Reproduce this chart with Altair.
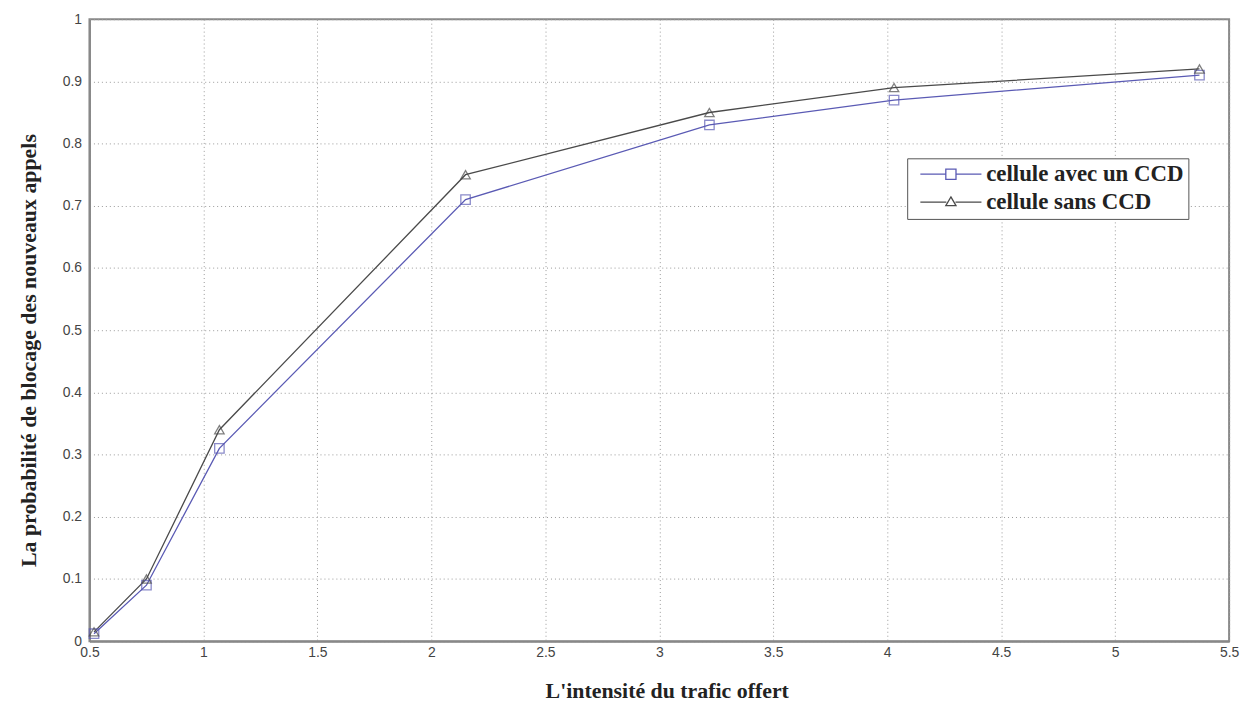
import altair as alt
import pandas as pd

x_vals = [0.52, 0.75, 1.07, 2.15, 3.22, 4.03, 5.37]
avec_ccd = [0.012, 0.09, 0.31, 0.71, 0.83, 0.87, 0.91]
sans_ccd = [0.015, 0.10, 0.34, 0.75, 0.85, 0.89, 0.92]
series_names = ["cellule avec un CCD", "cellule sans CCD"]

rows = []
for name, ys in zip(series_names, [avec_ccd, sans_ccd]):
    for xv, yv in zip(x_vals, ys):
        rows.append({"x": xv, "y": yv, "serie": name})
df = pd.DataFrame(rows)

color_range = ["#5a5ab4", "#4a4a4a"]
color_scale = alt.Scale(domain=series_names, range=color_range)
shape_scale = alt.Scale(domain=series_names, range=["square", "triangle-up"])
path_square = "M-3,0H-0.5M0.5,0H3M-0.5,-0.5H0.5V0.5H-0.5Z"
path_triangle = "M-3,0H-0.45M0.45,0H3M0,-0.5L0.5,0.35H-0.5Z"
legend_shape_scale = alt.Scale(domain=series_names, range=[path_square, path_triangle])

xenc = alt.X("x:Q", scale=alt.Scale(domain=[0.5, 5.5], nice=False),
             axis=alt.Axis(values=[0.5, 1, 1.5, 2, 2.5, 3, 3.5, 4, 4.5, 5, 5.5],
                           labelExpr="format(datum.value, '~g')", labelFlush=False,
                           title="L'intensité du trafic offert", titlePadding=22,
                           titleX=581, labelPadding=4))
yenc = alt.Y("y:Q", scale=alt.Scale(domain=[0, 1], nice=False),
             axis=alt.Axis(values=[0, 0.1, 0.2, 0.3, 0.4, 0.5, 0.6, 0.7, 0.8, 0.9, 1],
                           labelExpr="format(datum.value, '~g')", labelFlush=False,
                           title="La probabilité de blocage des nouveaux appels",
                           titlePadding=22, titleY=333, labelPadding=8))

legend = alt.Legend(title=None, orient="none", legendX=823, legendY=140,
                    fillColor="white", strokeColor="#555",
                    padding=4.5, labelFont="Liberation Serif",
                    labelFontSize=23, labelFontWeight="bold",
                    labelColor="#222", symbolSize=420, symbolOpacity=1,
                    symbolStrokeWidth=1.3, symbolOffset=28, labelOffset=24,
                    rowPadding=4, labelLimit=400)

lines = alt.Chart(df).mark_line(strokeWidth=1.3).encode(
    x=xenc, y=yenc,
    color=alt.Color("serie:N", scale=color_scale, sort=series_names, legend=None),
)
points = alt.Chart(df).mark_point(filled=False, size=90, strokeWidth=1.3).encode(
    x=xenc, y=yenc,
    color=alt.Color("serie:N", scale=color_scale, sort=series_names, legend=None),
    shape=alt.Shape("serie:N", scale=shape_scale, sort=series_names, legend=None),
)
legend_layer = alt.Chart(df).mark_point(filled=False, opacity=0).encode(
    x=xenc, y=yenc,
    color=alt.Color("serie:N", scale=color_scale, sort=series_names, legend=legend),
    shape=alt.Shape("serie:N", scale=legend_shape_scale, sort=series_names, legend=legend),
)

chart = alt.layer(lines, points, legend_layer).resolve_scale(
    shape="independent", color="independent"
).properties(
    width=1147, height=626,
    autosize=alt.AutoSizeParams(type="none"),
    padding={"left": 82, "top": 9, "right": 16, "bottom": 70},
).configure_view(
    stroke="#888", strokeWidth=2
).configure_axis(
    grid=True, gridColor="#999", gridDash=[1, 3], gridWidth=1,
    domainColor="#888", domainWidth=2, ticks=False,
    labelFont="Liberation Sans", labelFontSize=14, labelColor="#444",
    titleFont="Liberation Serif", titleFontSize=22, titleFontWeight="bold",
    titleColor="#222",
)

chart.save("out.html", embed_options={"renderer": "svg", "actions": False})
